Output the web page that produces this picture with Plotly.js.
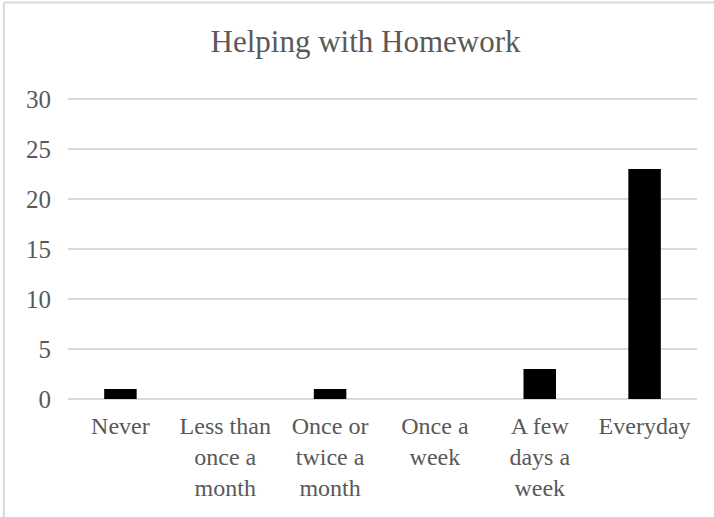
<!DOCTYPE html>
<html>
<head>
<meta charset="utf-8">
<script src="https://cdn.plot.ly/plotly-3.0.1.min.js"></script>
<style>html,body{margin:0;padding:0;background:#fff;}#chart{width:714px;height:517px;}</style>
</head>
<body>
<div id="chart"></div>
<script>
const categories = ["Never", "Less than<br>once a<br>month", "Once or<br>twice a<br>month", "Once a<br>week", "A few<br>days a<br>week", "Everyday"];
const values = [1, 0, 1, 0, 3, 23];
const yTicks = [0, 5, 10, 15, 20, 25, 30];
const chartTitle = "Helping with Homework";

const grey = "#595959";
const font = "Liberation Serif";

Plotly.newPlot("chart", [{
  type: "bar",
  x: categories,
  y: values,
  marker: {color: "#000000", line: {width: 0}},
  hoverinfo: "none"
}], {
  width: 714, height: 517,
  margin: {l: 68, r: 17, t: 94, b: 118, pad: 0},
  paper_bgcolor: "#ffffff",
  plot_bgcolor: "#ffffff",
  bargap: 0.69,
  showlegend: false,
  title: {
    text: chartTitle,
    font: {family: font, size: 31, color: grey},
    xref: "container", x: 0.512, xanchor: "center",
    yref: "container", y: 0.921, yanchor: "middle"
  },
  xaxis: {
    type: "category",
    tickfont: {family: font, size: 24, color: grey},
    showgrid: false,
    showline: false,
    ticks: "",
    ticklabelstandoff: 10,
    fixedrange: true
  },
  yaxis: {
    range: [0, 30.5],
    tickvals: yTicks,
    ticktext: yTicks.map(String),
    tickfont: {family: font, size: 25, color: grey},
    showgrid: true,
    gridcolor: "#d9d9d9",
    gridwidth: 1.5,
    zeroline: true,
    zerolinecolor: "#d9d9d9",
    zerolinewidth: 1.5,
    showline: false,
    ticks: "",
    ticklabelstandoff: 16,
    fixedrange: true
  },
  shapes: [
    {type: "line", xref: "paper", yref: "paper", x0: -0.102, x1: -0.102, y0: 1.3, y1: -0.5, line: {color: "#d9d9d9", width: 2}},
    {type: "line", xref: "paper", yref: "paper", x0: -0.102, x1: 1.1, y0: 1.3, y1: 1.3, line: {color: "#d9d9d9", width: 2}}
  ]
}, {displayModeBar: false, staticPlot: true});
</script>
</body>
</html>
